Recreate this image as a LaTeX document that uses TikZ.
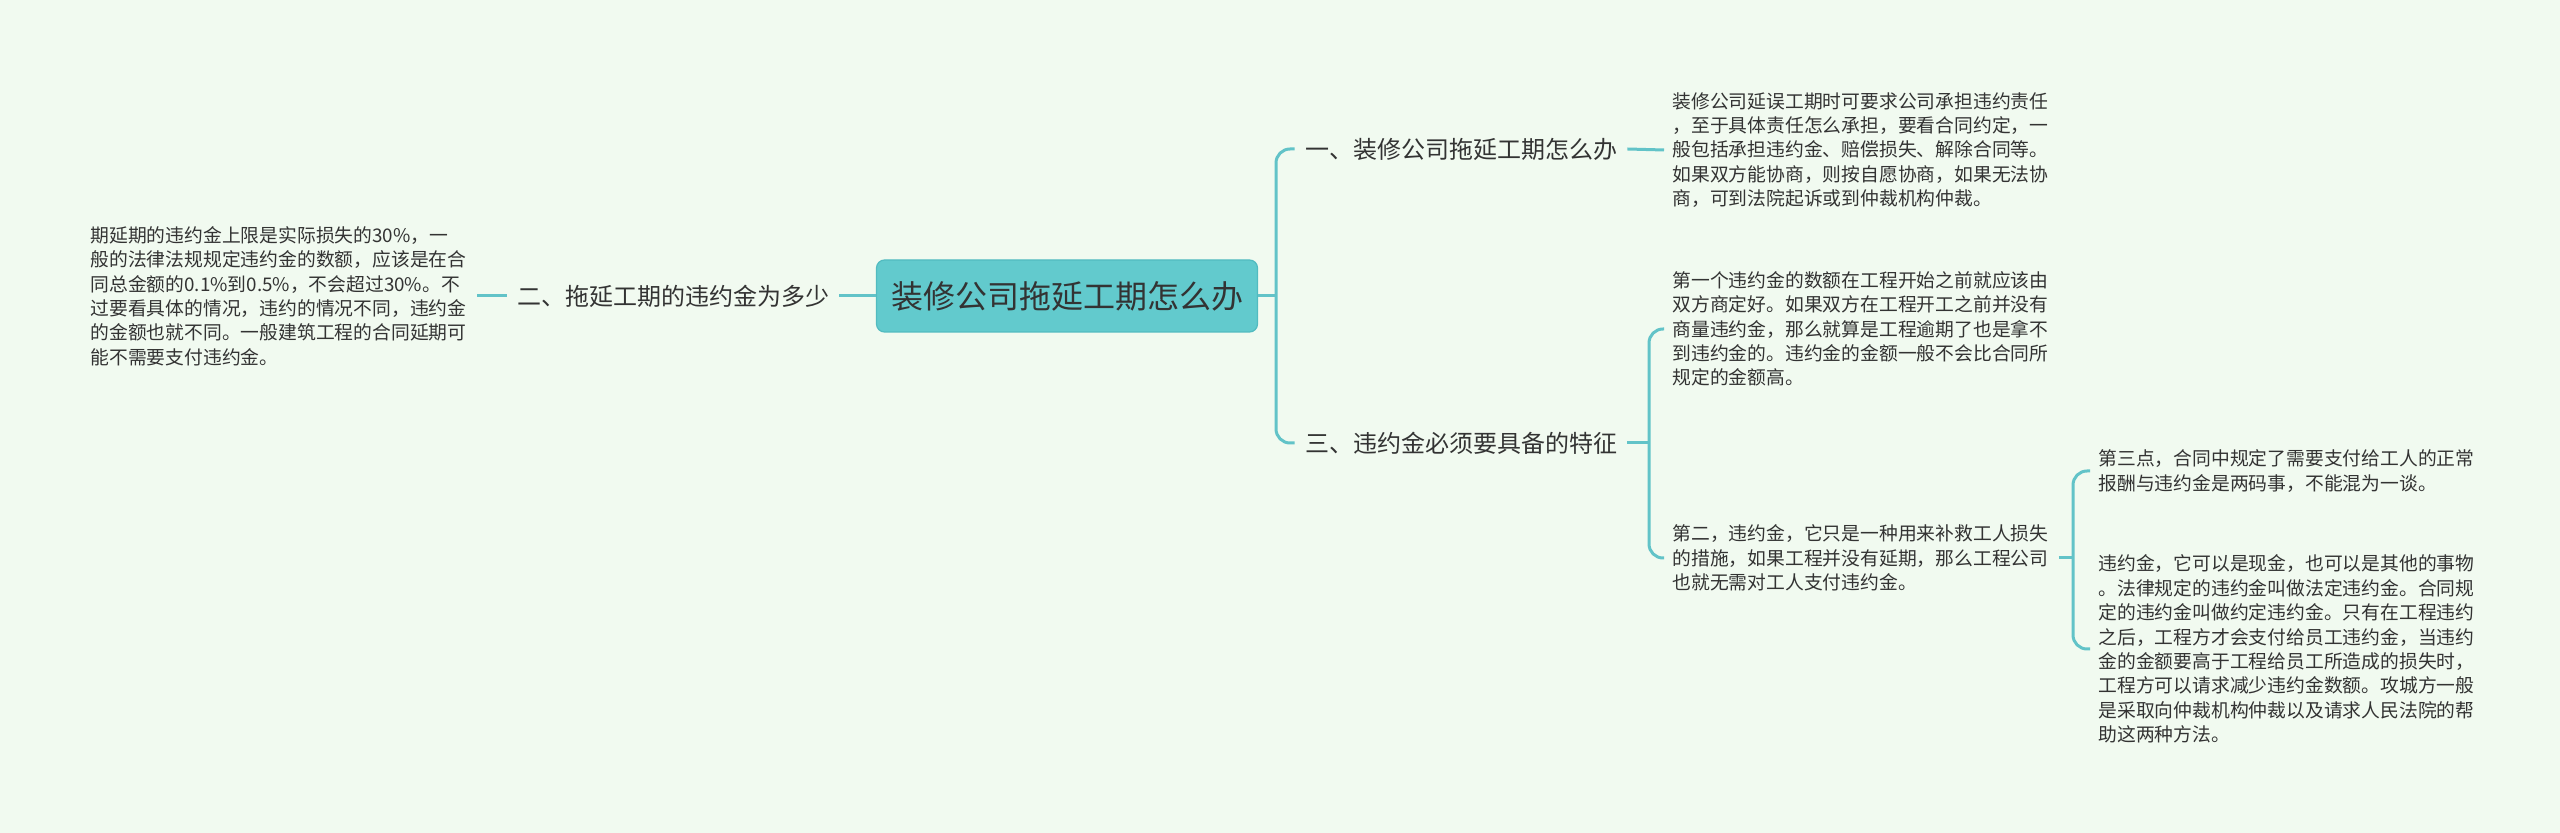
\documentclass[tikz,border=0pt]{standalone}
\usepackage{fontspec}
\setmainfont{Noto Sans CJK SC}
\definecolor{bgc}{HTML}{F1FAF0}
\definecolor{linec}{HTML}{62C3C8}
\definecolor{rootc}{HTML}{62CACD}
\definecolor{rootb}{HTML}{52BBC0}
\definecolor{txtc}{HTML}{333333}
\tikzset{
  conn/.style={draw=linec, line width=1.5pt, rounded corners=7pt},
  rootbox/.style={draw=rootb, line width=0.6pt, fill=rootc, rounded corners=4pt, text=txtc,
    minimum width=190.5pt, minimum height=36pt, inner sep=0pt, font=\fontsize{16pt}{19pt}\selectfont},
  lbl/.style={text=txtc, inner xsep=5pt, inner ysep=3pt, font=\fontsize{12pt}{15pt}\selectfont},
  para/.style={text=txtc, inner xsep=4pt, inner ysep=2pt, align=left, text width=189pt,
    font=\fontsize{9.4pt}{12.2pt}\selectfont},
}
\begin{document}
\begin{tikzpicture}[x=0.5pt,y=-0.5pt]
\useasboundingbox (0,0) rectangle (2560,833);
\fill[bgc] (0,0) rectangle (2560,833);

\node[rootbox] (root) at (1067,296) {装修公司拖延工期怎么办};

\node[lbl] (L2) at (673,296) {二、拖延工期的违约金为多少};
\node[lbl] (L1) at (1461,149) {一、装修公司拖延工期怎么办};
\node[lbl] (L3) at (1461,443) {三、违约金必须要具备的特征};

\node[para, anchor=west] (T0) at (82,296) {期延期的违约金上限是实际损失的30\%，一\\般的法律法规规定违约金的数额，应该是在合\\同总金额的0.1\%到0.5\%，不会超过30\%。不\\过要看具体的情况，违约的情况不同，违约金\\的金额也就不同。一般建筑工程的合同延期可\\能不需要支付违约金。};

\node[para, anchor=west] (T1) at (1664,150) {装修公司延误工期时可要求公司承担违约责任\\，至于具体责任怎么承担，要看合同约定，一\\般包括承担违约金、赔偿损失、解除合同等。\\如果双方能协商，则按自愿协商，如果无法协\\商，可到法院起诉或到仲裁机构仲裁。};

\node[para, anchor=west] (T3a) at (1664,329) {第一个违约金的数额在工程开始之前就应该由\\双方商定好。如果双方在工程开工之前并没有\\商量违约金，那么就算是工程逾期了也是拿不\\到违约金的。违约金的金额一般不会比合同所\\规定的金额高。};

\node[para, anchor=west] (T3b) at (1664,558) {第二，违约金，它只是一种用来补救工人损失\\的措施，如果工程并没有延期，那么工程公司\\也就无需对工人支付违约金。};

\node[para, anchor=west] (T3b1) at (2090,471) {第三点，合同中规定了需要支付给工人的正常\\报酬与违约金是两码事，不能混为一谈。};

\node[para, anchor=west] (T3b2) at (2090,649) {违约金，它可以是现金，也可以是其他的事物\\。法律规定的违约金叫做法定违约金。合同规\\定的违约金叫做约定违约金。只有在工程违约\\之后，工程方才会支付给员工违约金，当违约\\金的金额要高于工程给员工所造成的损失时，\\工程方可以请求减少违约金数额。攻城方一般\\是采取向仲裁机构仲裁以及请求人民法院的帮\\助这两种方法。};

\coordinate (j1) at (1276,296);
\coordinate (j3) at (1649,443);
\coordinate (j4) at (2073,558);

\draw[conn] (root.west) -- (L2.east);
\draw[conn] (L2.west) -- (T0.east);
\draw[conn] (root.east) -- (j1);
\draw[conn] (L1.west) -| (j1) |- (L3.west);
\draw[conn] (L1.east) -- (T1.west);
\draw[conn] (L3.east) -- (j3);
\draw[conn] (T3a.west) -| (j3) |- (T3b.west);
\draw[conn] (T3b.east) -- (j4);
\draw[conn] (T3b1.west) -| (j4) |- (T3b2.west);
\end{tikzpicture}
\end{document}
